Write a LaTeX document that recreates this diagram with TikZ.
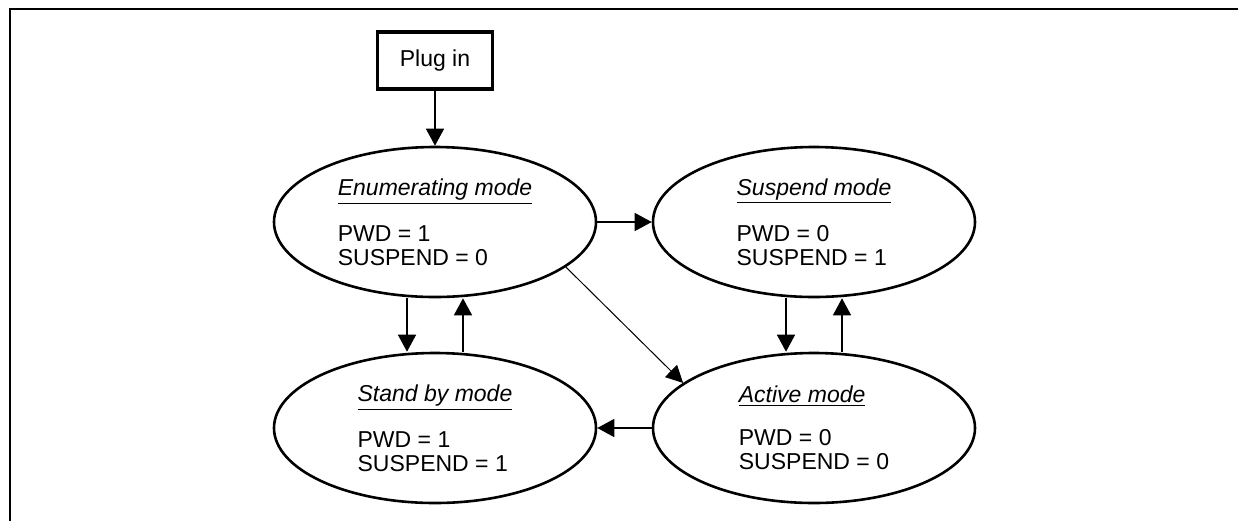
\documentclass[tikz,border=0pt]{standalone}
\usepackage{fontspec}
\setmainfont{Liberation Sans}
\usetikzlibrary{arrows.meta,shapes.geometric}
\begin{document}
\begin{tikzpicture}[x=0.5pt,y=-0.5pt,
  state/.style={ellipse,draw,line width=1.3pt,minimum width=161pt,minimum height=75pt,inner sep=0pt,align=left,font=\fontsize{11.5pt}{12pt}\selectfont},
  plugbox/.style={draw,line width=1.75pt,minimum width=57.5pt,minimum height=28.5pt,inner sep=0pt,font=\fontsize{11.5pt}{12pt}\selectfont},
  arr/.style={-{Triangle[width=9pt,length=8.5pt]},line width=0.75pt},
  thinarr/.style={-{Triangle[width=8.5pt,length=8.5pt]},line width=0.5pt}]
\useasboundingbox (0,0) rectangle (1238,521);
\draw[line width=1pt] (10,521) -- (10,9) -- (1238,9);
\node[plugbox] (plug) at (435,60.5) {Plug in};
\node[state] (enum) at (435,222) {\underline{\textit{Enumerating mode}}\\[9.5pt]PWD = 1\\SUSPEND = 0};
\node[state] (susp) at (814,222) {\underline{\textit{Suspend mode}}\\[9.5pt]PWD = 0\\SUSPEND = 1};
\node[state] (stand) at (435,428) {\underline{\textit{Stand by mode}}\\[9.5pt]PWD = 1\\SUSPEND = 1};
\node[state] (act) at (814,428) {\underline{\textit{Active mode}}\\[9.5pt]PWD = 0\\SUSPEND = 0};
\draw[arr] (plug) -- (enum);
\draw[arr] (enum) -- (susp);
\draw[arr] ([xshift=-14pt]enum.south) -- ([xshift=-14pt]stand.north);
\draw[arr] ([xshift=14pt]stand.north) -- ([xshift=14pt]enum.south);
\draw[arr] ([xshift=-14pt]susp.south) -- ([xshift=-14pt]act.north);
\draw[arr] ([xshift=14pt]act.north) -- ([xshift=14pt]susp.south);
\draw[arr] (act) -- (stand);
\draw[thinarr] (enum.-19) -- (act.161);
\end{tikzpicture}
\end{document}
